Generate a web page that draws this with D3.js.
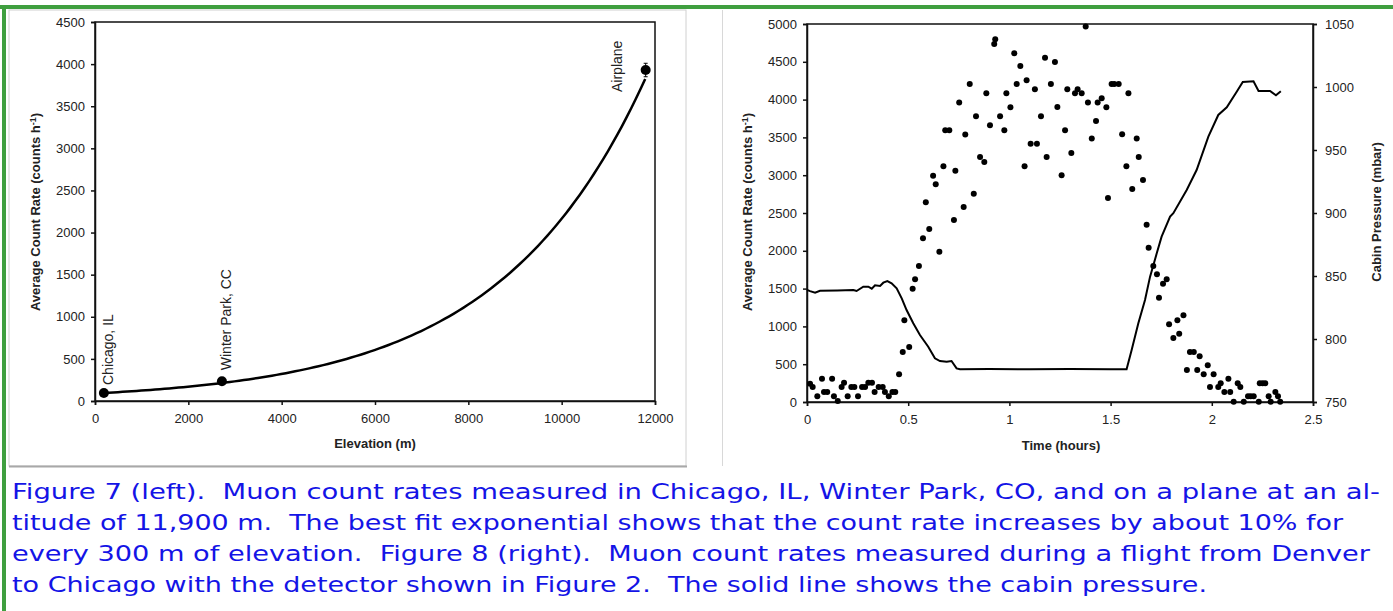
<!DOCTYPE html>
<html lang="en">
  <head>
    <meta charset="UTF-8" />
    <title>Muon count rates</title>
    <script src="https://d3js.org/d3.v7.min.js"></script>
    <style>
      body { margin: 0; background: #fff; }
      .tick text { font-family: 'Liberation Sans Narrow', 'Arial Narrow', 'Liberation Sans', sans-serif; font-size: 13px; fill: #222; }
      .axis-title { font-family: 'Liberation Sans Narrow', 'Liberation Sans', sans-serif; font-size: 13px; font-weight: bold; fill: #222; }
      .site-label { font-family: 'Liberation Sans', Arial, sans-serif; font-size: 14px; fill: #222; }
      .caption { font-family: 'DejaVu Sans', Verdana, sans-serif; font-size: 21px; fill: #1414e6; white-space: pre; }
    </style>
  </head>
  <body>
    <svg id="chart"></svg>

    <script>
      // ---- figure 7: rate vs elevation
      let sites = ['Chicago, IL', 'Winter Park, CC', 'Airplane']
      let siteElevation = [190, 2720, 11800]
      let siteRate = [95, 235, 3930]
      let siteErr = [15, 20, 80]
      // best fit exponential, rate = fitA * exp(fitB * elevation)
      let fitA = 90
      let fitB = 3.18e-4
      let elevTicks = [0, 2000, 4000, 6000, 8000, 10000, 12000]
      let rateTicksLeft = [0, 500, 1000, 1500, 2000, 2500, 3000, 3500, 4000, 4500]

      // ---- figure 8: flight from Denver to Chicago
      let flightTime = [0.015, 0.028, 0.051, 0.074, 0.084, 0.1, 0.124, 0.133, 0.152, 0.171, 0.183, 0.201, 0.219, 0.234, 0.252, 0.272, 0.287, 0.303, 0.321, 0.334, 0.354, 0.374, 0.385, 0.404, 0.422, 0.436, 0.455, 0.473, 0.481, 0.505, 0.522, 0.534, 0.553, 0.573, 0.587, 0.604, 0.623, 0.636, 0.654, 0.674, 0.683, 0.703, 0.726, 0.733, 0.752, 0.774, 0.782, 0.804, 0.824, 0.835, 0.855, 0.876, 0.886, 0.904, 0.925, 0.93, 0.954, 0.975, 0.985, 1.005, 1.024, 1.036, 1.054, 1.075, 1.085, 1.105, 1.126, 1.136, 1.156, 1.176, 1.184, 1.205, 1.225, 1.237, 1.258, 1.275, 1.286, 1.306, 1.324, 1.337, 1.357, 1.377, 1.388, 1.407, 1.428, 1.436, 1.456, 1.479, 1.487, 1.505, 1.518, 1.54, 1.557, 1.578, 1.588, 1.607, 1.629, 1.639, 1.66, 1.678, 1.688, 1.711, 1.729, 1.739, 1.759, 1.777, 1.789, 1.81, 1.83, 1.839, 1.86, 1.877, 1.892, 1.911, 1.928, 1.94, 1.96, 1.98, 1.991, 2.009, 2.032, 2.044, 2.062, 2.082, 2.091, 2.108, 2.128, 2.141, 2.158, 2.179, 2.192, 2.207, 2.232, 2.237, 2.251, 2.264, 2.281, 2.291, 2.314, 2.327, 2.338]
      let flightRate = [242, 198, 75, 309, 132, 132, 309, 75, 13, 198, 256, 75, 198, 198, 75, 198, 198, 256, 256, 132, 198, 198, 132, 75, 132, 132, 366, 661, 1081, 728, 1499, 1623, 1799, 2166, 2642, 2289, 2994, 2880, 1989, 3118, 3594, 3594, 2408, 3060, 3960, 2580, 3537, 4207, 2756, 3780, 3241, 3175, 4084, 3661, 4736, 4799, 3780, 3594, 4084, 3899, 4613, 4207, 4445, 3118, 4256, 3417, 4137, 3417, 3780, 4555, 3241, 4207, 4498, 3903, 2999, 3594, 4137, 3294, 4084, 4137, 4084, 4966, 3960, 3484, 3718, 3960, 4018, 3899, 2699, 4207, 4207, 4207, 3541, 3118, 4084, 2818, 3484, 3241, 2937, 2346, 2041, 1799, 1689, 1380, 1565, 1623, 1028, 847, 1081, 904, 1147, 423, 661, 661, 423, 605, 366, 486, 198, 366, 198, 247, 132, 309, 132, 4, 247, 198, 4, 75, 75, 75, 4, 247, 247, 247, 75, 4, 132, 75, 4]
      let pressureTime = [0, 0.015, 0.04, 0.064, 0.15, 0.229, 0.245, 0.278, 0.303, 0.32, 0.336, 0.361, 0.377, 0.397, 0.418, 0.443, 0.468, 0.492, 0.525, 0.558, 0.599, 0.632, 0.657, 0.69, 0.714, 0.739, 0.756, 0.9, 1.1, 1.3, 1.5, 1.579, 1.604, 1.637, 1.67, 1.695, 1.728, 1.752, 1.794, 1.81, 1.876, 1.925, 1.983, 2.032, 2.074, 2.123, 2.153, 2.206, 2.231, 2.288, 2.317, 2.341]
      let pressureMbar = [839, 838, 836.7, 838.3, 838.5, 838.9, 838.1, 841.5, 841.5, 839.9, 842.6, 842.1, 844.7, 846, 844.2, 840.2, 832.3, 823, 812.5, 803.2, 793.9, 784.7, 782.5, 782, 782.5, 776.7, 776, 776.2, 776, 776.2, 776, 776, 791.3, 812.5, 831, 849.5, 868, 881.2, 897.1, 899.8, 918.3, 934.1, 960.6, 977.8, 983.9, 996.3, 1004, 1004.5, 996.8, 996.8, 993.4, 996.6]
      let timeTicks = [0, 0.5, 1, 1.5, 2, 2.5]
      let rateTicksRight = [0, 500, 1000, 1500, 2000, 2500, 3000, 3500, 4000, 4500, 5000]
      let pressureTicks = [750, 800, 850, 900, 950, 1000, 1050]

      let captionLines = [
        'Figure 7 (left).  Muon count rates measured in Chicago, IL, Winter Park, CO, and on a plane at an al-',
        'titude of 11,900 m.  The best fit exponential shows that the count rate increases by about 10% for',
        'every 300 m of elevation.  Figure 8 (right).  Muon count rates measured during a flight from Denver',
        'to Chicago with the detector shown in Figure 2.  The solid line shows the cabin pressure.',
      ]
      let captionWidths = [1368, 1331, 1358, 1195]

      let width = 1393
      let height = 611

      let svg = d3.select('#chart').attr('width', width).attr('height', height)

      // page frame
      svg.append('rect').attr('x', 0).attr('y', 0).attr('width', width).attr('height', height).attr('fill', '#fff')
      svg.append('rect').attr('x', 9).attr('y', 10).attr('width', 677).attr('height', 456)
        .attr('fill', 'none').attr('stroke', '#d0d0d0').attr('stroke-width', 1)
      svg.append('line').attr('x1', 9).attr('x2', 687).attr('y1', 466.5).attr('y2', 466.5)
        .attr('stroke', '#a8a8a8').attr('stroke-width', 2)
      svg.append('line').attr('x1', 722.5).attr('x2', 722.5).attr('y1', 10).attr('y2', 466)
        .attr('stroke', '#d8d8d8').attr('stroke-width', 1)
      svg.append('line').attr('x1', 0).attr('x2', width).attr('y1', 7).attr('y2', 7)
        .attr('stroke', '#3f9f3f').attr('stroke-width', 4)
      svg.append('line').attr('x1', 4).attr('x2', 4).attr('y1', 5).attr('y2', height)
        .attr('stroke', '#3f9f3f').attr('stroke-width', 4)

      // ---------- left chart
      let xElev = d3.scaleLinear().domain([0, 12000]).range([95, 655])
      let yRateL = d3.scaleLinear().domain([0, 4500]).range([401, 22])

      let left = svg.append('g')
      left.append('rect').attr('x', 95).attr('y', 22).attr('width', 560).attr('height', 379)
        .attr('fill', 'none').attr('stroke', '#111').attr('stroke-width', 1.5)

      left.append('g').attr('transform', 'translate(0,401)')
        .call(d3.axisBottom(xElev).tickValues(elevTicks).tickSize(4).tickPadding(9).tickFormat(d3.format('d')))
      left.append('g').attr('transform', 'translate(95,0)')
        .call(d3.axisLeft(yRateL).tickValues(rateTicksLeft).tickSize(4).tickPadding(6).tickFormat(d3.format('d')))

      let fitLine = d3.line().x(d => xElev(d)).y(d => yRateL(fitA * Math.exp(fitB * d)))
      left.append('path')
        .attr('d', fitLine(d3.range(siteElevation[0], siteElevation[2] + 1, 100)))
        .attr('fill', 'none').attr('stroke', '#000').attr('stroke-width', 2.5)

      let siteData = sites.map((s, i) => ({ name: s, x: siteElevation[i], y: siteRate[i], e: siteErr[i] }))
      left.selectAll('g.err').data(siteData).enter().append('g').attr('class', 'err')
        .each(function (d) {
          let g = d3.select(this)
          let cx = xElev(d.x)
          g.append('line').attr('x1', cx).attr('x2', cx).attr('y1', yRateL(d.y - d.e)).attr('y2', yRateL(d.y + d.e))
          g.append('line').attr('x1', cx - 2).attr('x2', cx + 2).attr('y1', yRateL(d.y - d.e)).attr('y2', yRateL(d.y - d.e))
          g.append('line').attr('x1', cx - 2).attr('x2', cx + 2).attr('y1', yRateL(d.y + d.e)).attr('y2', yRateL(d.y + d.e))
        })
        .selectAll('line').attr('stroke', '#000').attr('stroke-width', 1)
      left.selectAll('circle').data(siteData).enter().append('circle')
        .attr('cx', d => xElev(d.x)).attr('cy', d => yRateL(d.y)).attr('r', 5).attr('fill', '#000')

      // label offsets from each point: dx, dy
      let labelPos = [[4, -8], [4, -11], [-29, 22]]
      left.selectAll('text.site-label').data(siteData).enter().append('text')
        .attr('class', 'site-label')
        .attr('transform', (d, i) => `translate(${xElev(d.x) + labelPos[i][0]},${yRateL(d.y) + labelPos[i][1]}) rotate(-90)`)
        .attr('text-anchor', 'start')
        .attr('dy', '0.35em')
        .text(d => d.name)

      left.append('text').attr('class', 'axis-title').attr('x', 375).attr('y', 448).attr('text-anchor', 'middle').text('Elevation (m)')
      let tL = left.append('text').attr('class', 'axis-title').attr('transform', 'translate(40,212) rotate(-90)').attr('text-anchor', 'middle')
      tL.append('tspan').text('Average Count Rate (counts h')
      tL.append('tspan').attr('dy', -4).attr('font-size', 9).text('-1')
      tL.append('tspan').attr('dy', 4).text(')')

      // ---------- right chart
      let xTime = d3.scaleLinear().domain([0, 2.5]).range([807, 1313])
      let yRateR = d3.scaleLinear().domain([0, 5000]).range([402, 24])
      let yPress = d3.scaleLinear().domain([750, 1050]).range([402, 24])

      let right = svg.append('g')
      right.append('rect').attr('x', 807).attr('y', 24).attr('width', 506).attr('height', 378)
        .attr('fill', 'none').attr('stroke', '#111').attr('stroke-width', 1.5)

      right.append('g').attr('transform', 'translate(0,402)')
        .call(d3.axisBottom(xTime).tickValues(timeTicks).tickSize(4).tickPadding(9).tickFormat(d => d))
      right.append('g').attr('transform', 'translate(807,0)')
        .call(d3.axisLeft(yRateR).tickValues(rateTicksRight).tickSize(4).tickPadding(6).tickFormat(d3.format('d')))
      right.append('g').attr('transform', 'translate(1313,0)')
        .call(d3.axisRight(yPress).tickValues(pressureTicks).tickSize(4).tickPadding(8).tickFormat(d3.format('d')))

      let pressLine = d3.line().x(d => xTime(d[0])).y(d => yPress(d[1]))
      right.append('path')
        .attr('d', pressLine(pressureTime.map((t, i) => [t, pressureMbar[i]])))
        .attr('fill', 'none').attr('stroke', '#000').attr('stroke-width', 2)

      right.selectAll('circle').data(flightTime.map((t, i) => [t, flightRate[i]])).enter().append('circle')
        .attr('cx', d => xTime(d[0])).attr('cy', d => yRateR(d[1])).attr('r', 3).attr('fill', '#000')

      right.append('text').attr('class', 'axis-title').attr('x', 1061).attr('y', 450).attr('text-anchor', 'middle').text('Time (hours)')
      let tR = right.append('text').attr('class', 'axis-title').attr('transform', 'translate(752,212) rotate(-90)').attr('text-anchor', 'middle')
      tR.append('tspan').text('Average Count Rate (counts h')
      tR.append('tspan').attr('dy', -4).attr('font-size', 9).text('-1')
      tR.append('tspan').attr('dy', 4).text(')')
      right.append('text').attr('class', 'axis-title').attr('transform', 'translate(1381,212) rotate(-90)').attr('text-anchor', 'middle').text('Cabin Pressure (mbar)')

      svg.selectAll('.domain').attr('stroke', '#111').attr('stroke-width', 1.5)
      svg.selectAll('.tick line').attr('stroke', '#111').attr('stroke-width', 1.5)

      // ---------- caption
      svg.append('g').selectAll('text').data(captionLines).enter().append('text')
        .attr('class', 'caption')
        .attr('x', 12)
        .attr('y', (d, i) => 499 + i * 31)
        .attr('textLength', (d, i) => captionWidths[i])
        .attr('lengthAdjust', 'spacingAndGlyphs')
        .text(d => d)
    </script>
  </body>
</html>
